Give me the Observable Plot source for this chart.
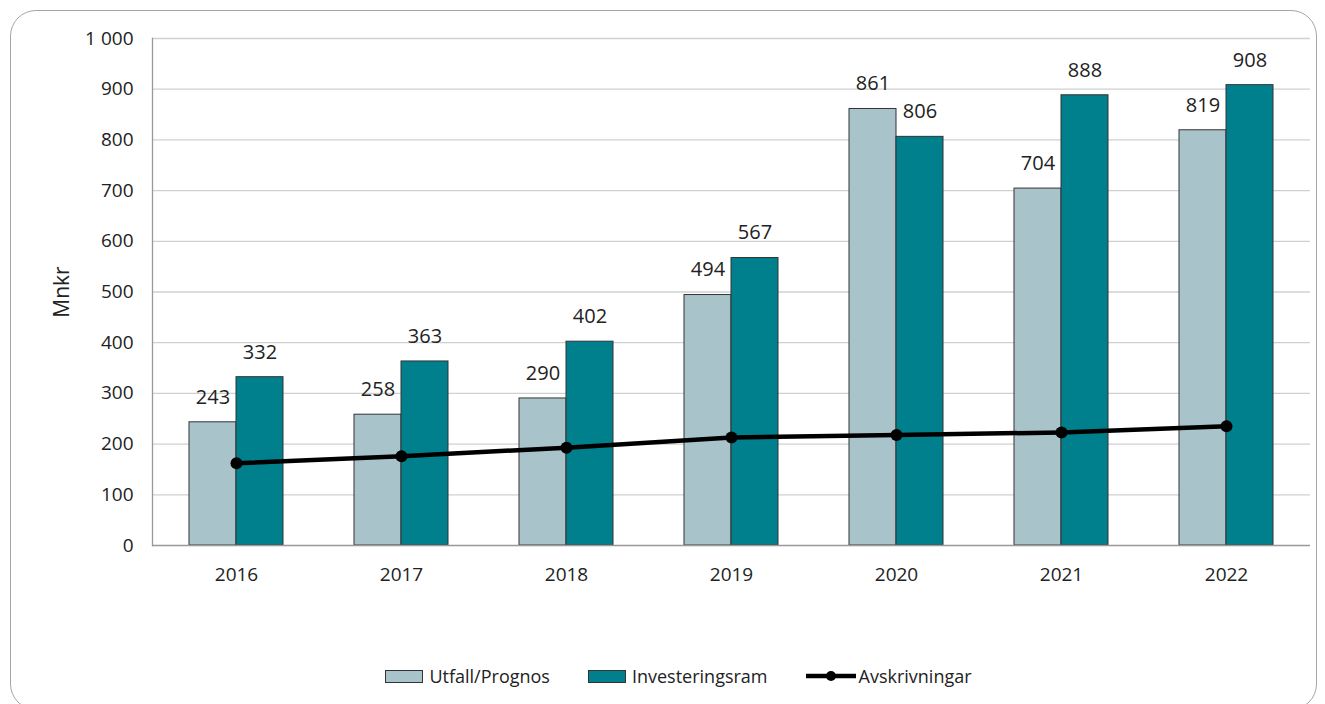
<!DOCTYPE html>
<html><head><meta charset="utf-8">
<script src="https://cdn.jsdelivr.net/npm/d3@7"></script>
<script src="https://cdn.jsdelivr.net/npm/@observablehq/plot@0.6"></script>
<style>
body{margin:0;background:#fff;font-family:"Open Sans",sans-serif;}
#wrap{position:relative;width:1325px;height:704px;overflow:hidden;}
#border{position:absolute;left:10px;top:10px;width:1307px;height:700px;border:1.5px solid #a6a6a6;border-radius:26px;box-sizing:border-box;}
#chart{position:absolute;left:0;top:0;}
#legend{position:absolute;left:0;top:664px;width:1325px;display:flex;justify-content:center;align-items:center;font-size:18px;color:#222;padding-left:32px;box-sizing:border-box;}
.item{display:flex;align-items:center;margin:0 19px;}
.sw{width:36px;height:11px;border:1px solid #333;margin-right:6px;}
</style>
</head><body>
<div id="wrap"><div id="border"></div><div id="chart"></div><div id="legend"></div></div>
<script>
const years = ["2016","2017","2018","2019","2020","2021","2022"];
const utfall = [243, 258, 290, 494, 861, 704, 819];
const ram = [332, 363, 402, 567, 806, 888, 908];
const avskr = [162, 176, 193, 213, 218, 223, 235];
const yTicks = [0,100,200,300,400,500,600,700,800,900,1000];
const seriesNames = ["Utfall/Prognos","Investeringsram","Avskrivningar"];
const colors = ["#a8c4ca","#007f8c","#000000"];

const uRows = years.map((y,i)=>({year:y, value:utfall[i]}));
const rRows = years.map((y,i)=>({year:y, value:ram[i]}));
const aRows = years.map((y,i)=>({year:y, value:avskr[i]}));
const fmt = d => String(d).replace(/\B(?=(\d{3})+(?!\d))/g, "\u00a0");
const half = 47;

const plot = Plot.plot({
  width: 1325, height: 704,
  marginLeft: 152, marginRight: 15, marginTop: 38, marginBottom: 159,
  style: {fontFamily: "'Open Sans', sans-serif", fontSize: "19px", color: "#222", background: "transparent"},
  x: {domain: years, type: "band", paddingInner: 0.432, paddingOuter: 0.216},
  y: {domain: [0, 1000]},
  marks: [
    Plot.ruleY(yTicks.filter(d=>d>0), {stroke: "#d0d0d0", strokeWidth: 1.3}),
    Plot.barY(uRows, {x: "year", y: "value", fill: colors[0], stroke: "#333", strokeWidth: 1, insetRight: half}),
    Plot.barY(rRows, {x: "year", y: "value", fill: colors[1], stroke: "#333", strokeWidth: 1, insetLeft: half}),
    Plot.text(uRows, {x: "year", y: "value", text: d => fmt(d.value), dx: -half/2, dy: -25, fontSize: 20, fill: "#222"}),
    Plot.text(rRows, {x: "year", y: "value", text: d => fmt(d.value), dx: half/2, dy: -25, fontSize: 20, fill: "#222"}),
    Plot.line(aRows, {x: "year", y: "value", stroke: colors[2], strokeWidth: 4.5}),
    Plot.dot(aRows, {x: "year", y: "value", r: 6, fill: colors[2]}),
    Plot.ruleY([0], {stroke: "#999", strokeWidth: 1.3}),
    Plot.frame({anchor: "left", stroke: "#999", strokeWidth: 1.3}),
    Plot.axisY({ticks: yTicks, tickSize: 0, tickPadding: 19, tickFormat: fmt, fontSize: 19,
      label: "Mnkr", labelAnchor: "center", labelOffset: 98, labelArrow: "none"}),
    Plot.axisX({tickSize: 0, tickPadding: 22, fontSize: 19, label: null})
  ]
});
plot.querySelectorAll("g[aria-label='y-axis label'] text").forEach(t=>{t.style.fontSize="21px";});
document.getElementById("chart").appendChild(plot);

const leg = document.getElementById("legend");
seriesNames.forEach((n,i)=>{
  const it = document.createElement("div"); it.className="item";
  if (i < 2) {
    const sw = document.createElement("div"); sw.className="sw"; sw.style.background = colors[i];
    it.appendChild(sw);
  } else {
    const s = document.createElementNS("http://www.w3.org/2000/svg","svg");
    s.setAttribute("width","50"); s.setAttribute("height","14"); s.style.marginRight="3px";
    s.innerHTML = '<line x1="0" y1="7" x2="50" y2="7" stroke="'+colors[2]+'" stroke-width="4.5"/><circle cx="25" cy="7" r="5" fill="'+colors[2]+'"/>';
    it.appendChild(s);
  }
  const t = document.createElement("span"); t.textContent = n; it.appendChild(t);
  leg.appendChild(it);
});
</script>
</body></html>
